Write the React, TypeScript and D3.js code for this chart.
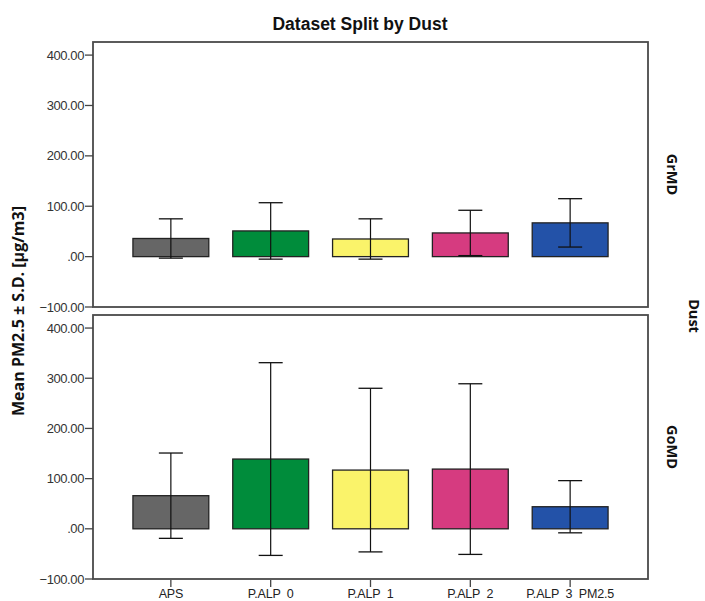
import React from "react";
import * as d3 from "d3";

const categories = ["APS", "P.ALP  0", "P.ALP  1", "P.ALP  2", "P.ALP  3  PM2.5"];
const barColors = ["#666666", "#008c3b", "#faf36a", "#d63b80", "#2352a8"];
const panelNames = ["GrMD", "GoMD"];
const grmdMean = [36, 51, 35, 47, 67];
const grmdSD = [39, 56, 40, 45, 48];
const gomdMean = [66, 139, 117, 119, 44];
const gomdSD = [85, 192, 163, 170, 52];
const yTicks = [-100, 0, 100, 200, 300, 400];

const width = 705;
const height = 601;
const left = 93;
const right = 648;
const panels = [
  { name: panelNames[0], top: 42, bottom: 307, mean: grmdMean, sd: grmdSD },
  { name: panelNames[1], top: 315, bottom: 579, mean: gomdMean, sd: gomdSD },
];

const fmt = (d: number) => (d === 0 ? ".00" : d.toFixed(2).replace("-", "\u2212"));

const x = d3
  .scaleBand<string>()
  .domain(categories)
  .range([left, right])
  .paddingInner(0.24)
  .paddingOuter(0.4);

const sans = "'Liberation Sans', Arial, sans-serif";
const boldFont = "'Open Sans', sans-serif";

const App = () => {
  const capW = 24;
  return (
    <svg
      width={width}
      height={height}
      style={{ position: "absolute", left: 0, top: 0, background: "#fff" }}
      fontFamily={sans}
    >
      <text
        x={360}
        y={30}
        textAnchor="middle"
        fontSize={17.5}
        fontWeight={700}
        fontFamily={sans}
        fill="#111"
      >
        Dataset Split by Dust
      </text>

      {panels.map((p) => {
        const y = d3.scaleLinear().domain([-100, 426]).range([p.bottom, p.top]);
        const mid = (p.top + p.bottom) / 2;
        return (
          <g key={p.name}>
            {/* bars + error bars */}
            {categories.map((c, i) => {
              const bx = x(c)!;
              const cx = bx + x.bandwidth() / 2;
              const hi = y(p.mean[i] + p.sd[i]);
              const lo = y(p.mean[i] - p.sd[i]);
              return (
                <g key={c}>
                  <rect
                    x={bx}
                    y={y(p.mean[i])}
                    width={x.bandwidth()}
                    height={y(0) - y(p.mean[i])}
                    fill={barColors[i]}
                    stroke="#222"
                    strokeWidth={1.3}
                  />
                  <line x1={cx} x2={cx} y1={hi} y2={lo} stroke="#111" strokeWidth={1.2} />
                  <line x1={cx - capW / 2} x2={cx + capW / 2} y1={hi} y2={hi} stroke="#111" strokeWidth={1.3} />
                  <line x1={cx - capW / 2} x2={cx + capW / 2} y1={lo} y2={lo} stroke="#111" strokeWidth={1.3} />
                </g>
              );
            })}
            {/* panel frame */}
            <rect
              x={left}
              y={p.top}
              width={right - left}
              height={p.bottom - p.top}
              fill="none"
              stroke="#4a4a4a"
              strokeWidth={1.8}
            />
            {/* y axis */}
            {yTicks.map((t) => (
              <g key={t} transform={`translate(0,${y(t)})`}>
                <line x1={left - 8} x2={left} stroke="#444" strokeWidth={1.3} />
                <text
                  x={left - 9}
                  dy="0.35em"
                  textAnchor="end"
                  fontSize={13}
                  fill="#333"
                  letterSpacing={-0.4}
                >
                  {fmt(t)}
                </text>
              </g>
            ))}
            <text
              transform={`translate(667,${mid}) rotate(90)`}
              textAnchor="middle"
              fontSize={14.5}
              fontWeight={700}
              fontFamily={boldFont}
              fill="#111"
            >
              {p.name}
            </text>
          </g>
        );
      })}

      {/* x axis */}
      {categories.map((c) => {
        const cx = x(c)! + x.bandwidth() / 2;
        return (
          <g key={c}>
            <line x1={cx} x2={cx} y1={580} y2={587} stroke="#444" strokeWidth={1.3} />
            <text
              x={cx}
              y={598}
              textAnchor="middle"
              fontSize={12.5}
              fill="#222"
              style={{ whiteSpace: "pre" }}
              letterSpacing={-0.2}
            >
              {c}
            </text>
          </g>
        );
      })}

      <text
        transform="translate(24,311) rotate(-90)"
        textAnchor="middle"
        fontSize={16}
        fontWeight={700}
        fontFamily={boldFont}
        fill="#111"
      >
        Mean PM2.5 ± S.D. [µg/m3]
      </text>
      <text
        transform="translate(689,316) rotate(90)"
        textAnchor="middle"
        fontSize={14.5}
        fontWeight={700}
        fontFamily={boldFont}
        fill="#111"
      >
        Dust
      </text>
    </svg>
  );
};

export default App;
